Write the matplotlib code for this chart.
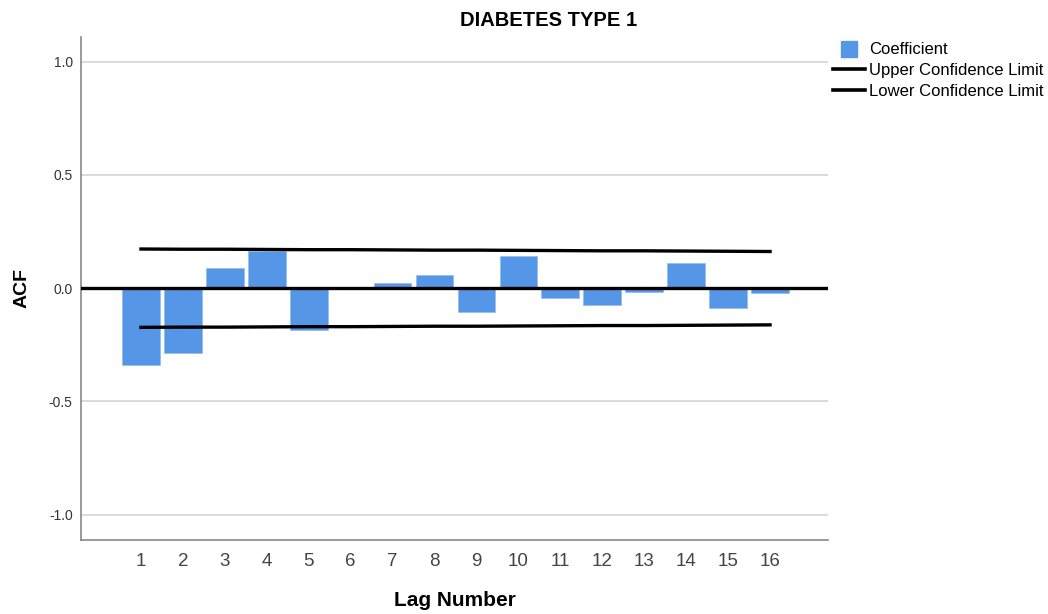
import matplotlib.pyplot as plt
from matplotlib.lines import Line2D

plt.rcParams['font.family'] = ['Liberation Sans', 'DejaVu Sans']

lags = list(range(1, 17))
acf = [-0.340, -0.288, 0.088, 0.165, -0.185, -0.002, 0.025, 0.059,
       -0.105, 0.143, -0.044, -0.074, -0.015, 0.112, -0.087, -0.022]
upper = [0.173, 0.172, 0.172, 0.171, 0.170, 0.170, 0.169, 0.168,
         0.168, 0.167, 0.166, 0.165, 0.165, 0.164, 0.163, 0.162]
lower = [-u for u in upper]
yticks = [-1.0, -0.5, 0.0, 0.5, 1.0]

fig = plt.figure(figsize=(10.48, 6.14), dpi=100)
ax = fig.add_axes([0.0773, 0.1213, 0.7127, 0.8187])

ax.bar(lags, acf, width=0.9, color='#5596e6', edgecolor='#8ab8f0', linewidth=0.4, zorder=2)
ax.plot(lags, upper, color='black', linewidth=2.4, zorder=3)
ax.plot(lags, lower, color='black', linewidth=2.4, zorder=3)
ax.axhline(0, color='black', linewidth=2.4, zorder=3)

ax.set_xlim(-0.43, 17.38)
ax.set_ylim(-1.11, 1.11)
ax.set_yticks(yticks)
ax.set_yticklabels([f'{v:.1f}' for v in yticks])
ax.set_xticks(lags)
ax.yaxis.grid(True, color='#d4d4d4', linewidth=1.2, zorder=0)
ax.tick_params(axis='both', length=0)
ax.tick_params(axis='y', labelsize=10, labelcolor='#333333', pad=6)
ax.tick_params(axis='x', labelsize=13.5, labelcolor='#444444', pad=10)
for s in ['top', 'right']:
    ax.spines[s].set_visible(False)
for s in ['left', 'bottom']:
    ax.spines[s].set_color('#888888')
    ax.spines[s].set_linewidth(1.2)

ax.set_ylabel('ACF', fontsize=14, fontweight='bold')
ax.yaxis.set_label_coords(-0.068, 0.5)
ax.set_xlabel('Lag Number', fontsize=15, fontweight='bold')
ax.xaxis.set_label_coords(0.5, -0.102)
fig.text(0.523, 1 - 20 / 614, 'DIABETES TYPE 1', ha='center', va='center',
         fontsize=14.5, fontweight='bold')

handles = [Line2D([0], [0], marker='s', color='#5596e6', markersize=12, linestyle='none'),
           Line2D([0], [0], color='black', linewidth=2.6),
           Line2D([0], [0], color='black', linewidth=2.6)]
fig.legend(handles, ['Coefficient', 'Upper Confidence Limit', 'Lower Confidence Limit'],
           loc='upper left', bbox_to_anchor=(0.795, 0.931), frameon=False,
           fontsize=12, handlelength=1.9, handletextpad=0.25, labelspacing=0.34,
           borderaxespad=0, borderpad=0)

fig.savefig('out.png', dpi=100)
